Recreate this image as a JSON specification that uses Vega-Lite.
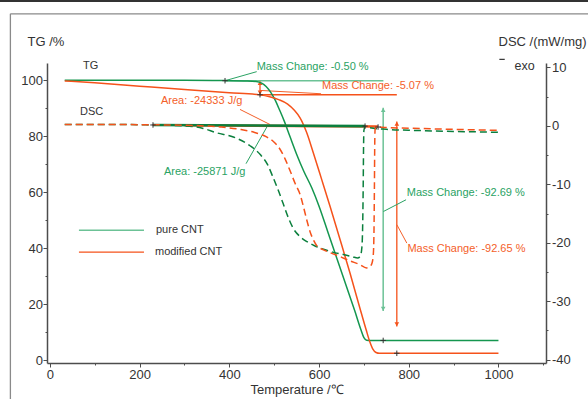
{
  "$schema": "https://vega.github.io/schema/vega-lite/v6.json",
  "width": 499,
  "height": 300,
  "autosize": {"type": "none"},
  "padding": {"left": 47, "top": 63, "right": 42, "bottom": 36},
  "background": "white",
  "config": {
    "font": "Liberation Sans",
    "view": {"stroke": null},
    "axis": {"grid": false, "domainColor": "#4d4d4d", "domainWidth": 1.5, "tickColor": "#4d4d4d", "tickWidth": 1, "labelColor": "#333", "labelFontSize": 13, "labelFont": "Liberation Sans", "titleFont": "Liberation Sans", "titleFontSize": 13, "titleFontWeight": "normal", "titleColor": "#333"}
  },
  "datasets": {
    "tg": [
      {"T": 33, "TG": 100, "s": "pure"}, {"T": 200, "TG": 100, "s": "pure"}, {"T": 300, "TG": 100, "s": "pure"}, {"T": 390, "TG": 99.9, "s": "pure"}, {"T": 440, "TG": 99.8, "s": "pure"}, {"T": 460, "TG": 99.6, "s": "pure"}, {"T": 472, "TG": 99.0, "s": "pure"}, {"T": 482, "TG": 97.8, "s": "pure"}, {"T": 492, "TG": 95.8, "s": "pure"}, {"T": 502, "TG": 93.0, "s": "pure"}, {"T": 512, "TG": 89.4, "s": "pure"}, {"T": 522, "TG": 85.6, "s": "pure"}, {"T": 535, "TG": 80.0, "s": "pure"}, {"T": 550, "TG": 73.6, "s": "pure"}, {"T": 566, "TG": 67.5, "s": "pure"}, {"T": 584, "TG": 61.5, "s": "pure"}, {"T": 600, "TG": 55.0, "s": "pure"}, {"T": 620, "TG": 45.6, "s": "pure"}, {"T": 640, "TG": 36.2, "s": "pure"}, {"T": 660, "TG": 26.8, "s": "pure"}, {"T": 680, "TG": 17.4, "s": "pure"}, {"T": 693, "TG": 11.0, "s": "pure"}, {"T": 700, "TG": 8.0, "s": "pure"}, {"T": 706, "TG": 7.1, "s": "pure"}, {"T": 715, "TG": 7.0, "s": "pure"}, {"T": 800, "TG": 7.0, "s": "pure"}, {"T": 900, "TG": 7.0, "s": "pure"}, {"T": 1000, "TG": 7.0, "s": "pure"},
      {"T": 33, "TG": 99.8, "s": "modified"}, {"T": 100, "TG": 99.1, "s": "modified"}, {"T": 200, "TG": 97.9, "s": "modified"}, {"T": 300, "TG": 96.7, "s": "modified"}, {"T": 400, "TG": 95.6, "s": "modified"}, {"T": 468, "TG": 94.8, "s": "modified"}, {"T": 490, "TG": 94.1, "s": "modified"}, {"T": 510, "TG": 93.1, "s": "modified"}, {"T": 530, "TG": 91.5, "s": "modified"}, {"T": 545, "TG": 89.3, "s": "modified"}, {"T": 558, "TG": 86.5, "s": "modified"}, {"T": 572, "TG": 81.5, "s": "modified"}, {"T": 587, "TG": 74.2, "s": "modified"}, {"T": 606, "TG": 64.5, "s": "modified"}, {"T": 625, "TG": 54.7, "s": "modified"}, {"T": 647, "TG": 43.0, "s": "modified"}, {"T": 669, "TG": 31.1, "s": "modified"}, {"T": 691, "TG": 18.6, "s": "modified"}, {"T": 705, "TG": 10.8, "s": "modified"}, {"T": 713, "TG": 6.6, "s": "modified"}, {"T": 720, "TG": 3.9, "s": "modified"}, {"T": 727, "TG": 2.7, "s": "modified"}, {"T": 735, "TG": 2.4, "s": "modified"}, {"T": 800, "TG": 2.4, "s": "modified"}, {"T": 900, "TG": 2.4, "s": "modified"}, {"T": 1000, "TG": 2.4, "s": "modified"}
    ],
    "dsc": [
      {"T": 33, "DSC": 0.25, "s": "pure"}, {"T": 150, "DSC": 0.25, "s": "pure"}, {"T": 230, "DSC": 0.15, "s": "pure"}, {"T": 300, "DSC": 0.0, "s": "pure"}, {"T": 340, "DSC": -0.4, "s": "pure"}, {"T": 372, "DSC": -1.2, "s": "pure"}, {"T": 409, "DSC": -1.9, "s": "pure"}, {"T": 446, "DSC": -3.4, "s": "pure"}, {"T": 470, "DSC": -5.0, "s": "pure"}, {"T": 485, "DSC": -6.6, "s": "pure"}, {"T": 498, "DSC": -8.9, "s": "pure"}, {"T": 510, "DSC": -11.2, "s": "pure"}, {"T": 520, "DSC": -13.3, "s": "pure"}, {"T": 532, "DSC": -15.8, "s": "pure"}, {"T": 543, "DSC": -17.6, "s": "pure"}, {"T": 557, "DSC": -18.9, "s": "pure"}, {"T": 573, "DSC": -19.8, "s": "pure"}, {"T": 590, "DSC": -20.5, "s": "pure"}, {"T": 610, "DSC": -21.1, "s": "pure"}, {"T": 630, "DSC": -21.6, "s": "pure"}, {"T": 654, "DSC": -22.0, "s": "pure"}, {"T": 675, "DSC": -22.4, "s": "pure"}, {"T": 686, "DSC": -22.6, "s": "pure"}, {"T": 692, "DSC": -22.3, "s": "pure"}, {"T": 695.5, "DSC": -20.8, "s": "pure"}, {"T": 697.5, "DSC": -16, "s": "pure"}, {"T": 698.5, "DSC": -10, "s": "pure"}, {"T": 699.2, "DSC": -4, "s": "pure"}, {"T": 700, "DSC": -0.8, "s": "pure"}, {"T": 703, "DSC": -0.1, "s": "pure"}, {"T": 710, "DSC": -0.25, "s": "pure"}, {"T": 750, "DSC": -0.6, "s": "pure"}, {"T": 800, "DSC": -0.75, "s": "pure"}, {"T": 900, "DSC": -0.95, "s": "pure"}, {"T": 1000, "DSC": -1.1, "s": "pure"},
      {"T": 33, "DSC": 0.25, "s": "modified"}, {"T": 200, "DSC": 0.2, "s": "modified"}, {"T": 300, "DSC": 0.1, "s": "modified"}, {"T": 380, "DSC": -0.2, "s": "modified"}, {"T": 424, "DSC": -0.6, "s": "modified"}, {"T": 455, "DSC": -1.1, "s": "modified"}, {"T": 483, "DSC": -1.9, "s": "modified"}, {"T": 500, "DSC": -2.8, "s": "modified"}, {"T": 513, "DSC": -4.0, "s": "modified"}, {"T": 524, "DSC": -5.6, "s": "modified"}, {"T": 535, "DSC": -7.6, "s": "modified"}, {"T": 547, "DSC": -9.9, "s": "modified"}, {"T": 558, "DSC": -11.8, "s": "modified"}, {"T": 565, "DSC": -13.75, "s": "modified"}, {"T": 572, "DSC": -15.9, "s": "modified"}, {"T": 580, "DSC": -18.1, "s": "modified"}, {"T": 588, "DSC": -19.6, "s": "modified"}, {"T": 595, "DSC": -20.5, "s": "modified"}, {"T": 610, "DSC": -21.2, "s": "modified"}, {"T": 625, "DSC": -21.7, "s": "modified"}, {"T": 645, "DSC": -22.3, "s": "modified"}, {"T": 669, "DSC": -23.1, "s": "modified"}, {"T": 690, "DSC": -23.7, "s": "modified"}, {"T": 706, "DSC": -24.3, "s": "modified"}, {"T": 713, "DSC": -24.1, "s": "modified"}, {"T": 718, "DSC": -23.5, "s": "modified"}, {"T": 721, "DSC": -22.0, "s": "modified"}, {"T": 722.5, "DSC": -18, "s": "modified"}, {"T": 723.5, "DSC": -10, "s": "modified"}, {"T": 724.2, "DSC": -3, "s": "modified"}, {"T": 725, "DSC": -0.6, "s": "modified"}, {"T": 728, "DSC": -0.15, "s": "modified"}, {"T": 740, "DSC": -0.25, "s": "modified"}, {"T": 800, "DSC": -0.4, "s": "modified"}, {"T": 900, "DSC": -0.6, "s": "modified"}, {"T": 1000, "DSC": -0.78, "s": "modified"}
    ],
    "dscbase": [
      {"T": 300, "DSC": 0.1, "T2": 731.6, "DSC2": -0.1, "s": "modified"},
      {"T": 229.8, "DSC": 0.15, "T2": 702.6, "DSC2": -0.05, "s": "pure"}
    ],
    "dscplus": [
      {"T": 229.8, "DSC": 0.15}, {"T": 702.6, "DSC": -0.05}, {"T": 731.6, "DSC": -0.2}
    ],
    "tgplus": [
      {"T": 390.4, "TG": 99.86}, {"T": 468.4, "TG": 94.85}, {"T": 743, "TG": 7.0}, {"T": 773.4, "TG": 2.4}
    ],
    "seg": [
      {"k": "frame", "T": -88.1, "TG": 123.8, "T2": -88.1, "TG2": -20},
      {"k": "frame", "T": -88.1, "TG": 123.8, "T2": 1250, "TG2": 123.8},
      {"k": "topbar", "T": -120, "TG": 128.4, "T2": 1250, "TG2": 128.4},
      {"k": "exo", "T": 1002, "TG": 107.5, "T2": 1014, "TG2": 107.5},
      {"k": "legend", "s": "pure", "T": 64.7, "TG": 46.4, "T2": 209.7, "TG2": 46.4},
      {"k": "legend", "s": "modified", "T": 64.7, "TG": 38.6, "T2": 209.7, "TG2": 38.6},
      {"k": "under", "s": "pure", "T": 390.4, "TG": 99.86, "T2": 743.5, "TG2": 99.86},
      {"k": "under", "s": "modified", "T": 468.4, "TG": 94.85, "T2": 773.4, "TG2": 94.85},
      {"k": "arrow", "s": "pure", "T": 743, "TG": 90.2, "T2": 743, "TG2": 17.5},
      {"k": "arrow", "s": "modified", "T": 773.4, "TG": 85.3, "T2": 773.4, "TG2": 12},
      {"k": "arrow", "s": "modified", "T": 468.4, "TG": 99.5, "T2": 468.4, "TG2": 95.2},
      {"k": "leader", "s": "pure", "T": 390.4, "TG": 99.86, "T2": 461, "TG2": 103.1},
      {"k": "leader", "s": "pure", "T": 437.2, "TG": 70.2, "T2": 484, "TG2": 83.4},
      {"k": "leader", "s": "pure", "T": 743.5, "TG": 53.1, "T2": 794, "TG2": 57.3},
      {"k": "leader", "s": "modified", "T": 468.4, "TG": 96.4, "T2": 604.5, "TG2": 95.2},
      {"k": "leader", "s": "modified", "T": 423.8, "TG": 89.6, "T2": 490.7, "TG2": 84.2},
      {"k": "leader", "s": "modified", "T": 773.4, "TG": 48.4, "T2": 795.7, "TG2": 41.8}
    ],
    "heads": [
      {"s": "pure", "dir": "up", "T": 743, "TG": 89.4},
      {"s": "pure", "dir": "down", "T": 743, "TG": 18.3},
      {"s": "modified", "dir": "up", "T": 773.4, "TG": 84.5},
      {"s": "modified", "dir": "down", "T": 773.4, "TG": 12.8},
      {"s": "modified", "dir": "up", "T": 468.4, "TG": 99.1},
      {"s": "modified", "dir": "down", "T": 468.4, "TG": 95.6}
    ],
    "ann": [
      {"s": "pure", "T": 461, "TG": 104.6, "text": "Mass Change: -0.50 %"},
      {"s": "pure", "T": 254.3, "TG": 67.4, "text": "Area: -25871 J/g"},
      {"s": "pure", "T": 795.7, "TG": 59.7, "text": "Mass Change: -92.69 %"},
      {"s": "modified", "T": 606.7, "TG": 97.8, "text": "Mass Change: -5.07 %"},
      {"s": "modified", "T": 247.6, "TG": 92.5, "text": "Area: -24333 J/g"},
      {"s": "modified", "T": 797, "TG": 39.7, "text": "Mass Change: -92.65 %"},
      {"s": "other", "T": 73.6, "TG": 105.0, "text": "TG"},
      {"s": "other", "T": 67, "TG": 88.8, "text": "DSC"},
      {"s": "other", "T": 236.5, "TG": 46.4, "text": "pure CNT"},
      {"s": "other", "T": 234.2, "TG": 38.6, "text": "modified CNT"},
      {"s": "exo", "T": 1036, "TG": 105.0, "text": "exo"}
    ]
  },
  "resolve": {"scale": {"y": "independent", "color": "independent"}, "axis": {"y": "independent"}},
  "layer": [
    {
      "resolve": {"axis": {"x": "independent", "y": "independent"}, "scale": {"color": "independent"}},
      "layer": [
        {
          "data": {"name": "seg"},
          "transform": [{"filter": "datum.k === 'frame'"}],
          "mark": {"type": "rule", "color": "#8a8a8a", "strokeWidth": 1.3},
          "encoding": {
            "x": {"field": "T", "type": "quantitative", "scale": {"domain": [-6.5, 1106], "nice": false, "zero": false}, "axis": null},
            "x2": {"field": "T2"},
            "y": {"field": "TG", "type": "quantitative", "scale": {"domain": [-1.07, 106.2], "nice": false, "zero": false}, "axis": null},
            "y2": {"field": "TG2"}
          }
        },
        {
          "data": {"name": "seg"},
          "transform": [{"filter": "datum.k === 'topbar'"}],
          "mark": {"type": "rule", "color": "#333", "strokeWidth": 2.4},
          "encoding": {
            "x": {"field": "T", "type": "quantitative", "scale": {"domain": [-6.5, 1106], "nice": false, "zero": false}, "axis": null},
            "x2": {"field": "T2"},
            "y": {"field": "TG", "type": "quantitative", "scale": {"domain": [-1.07, 106.2], "nice": false, "zero": false}, "axis": null},
            "y2": {"field": "TG2"}
          }
        },
        {
          "data": {"name": "seg"},
          "transform": [{"filter": "datum.k === 'exo'"}],
          "mark": {"type": "rule", "color": "#333", "strokeWidth": 1.2},
          "encoding": {
            "x": {"field": "T", "type": "quantitative", "scale": {"domain": [-6.5, 1106], "nice": false, "zero": false}, "axis": null},
            "x2": {"field": "T2"},
            "y": {"field": "TG", "type": "quantitative", "scale": {"domain": [-1.07, 106.2], "nice": false, "zero": false}, "axis": null},
            "y2": {"field": "TG2"}
          }
        },
        {
          "data": {"name": "seg"},
          "transform": [{"filter": "(datum.k === 'legend' || datum.k === 'arrow' || datum.k === 'under') && datum.s === 'pure'"}],
          "mark": {"type": "rule", "color": "#6cc296", "strokeWidth": 1.5},
          "encoding": {
            "x": {"field": "T", "type": "quantitative", "scale": {"domain": [-6.5, 1106], "nice": false, "zero": false}, "axis": null},
            "x2": {"field": "T2"},
            "y": {"field": "TG", "type": "quantitative", "scale": {"domain": [-1.07, 106.2], "nice": false, "zero": false}, "axis": null},
            "y2": {"field": "TG2"}
          }
        },
        {
          "data": {"name": "seg"},
          "transform": [{"filter": "(datum.k === 'legend' || datum.k === 'arrow' || datum.k === 'under') && datum.s === 'modified'"}],
          "mark": {"type": "rule", "color": "#f5521b", "strokeWidth": 1.3},
          "encoding": {
            "x": {"field": "T", "type": "quantitative", "scale": {"domain": [-6.5, 1106], "nice": false, "zero": false}, "axis": null},
            "x2": {"field": "T2"},
            "y": {"field": "TG", "type": "quantitative", "scale": {"domain": [-1.07, 106.2], "nice": false, "zero": false}, "axis": null},
            "y2": {"field": "TG2"}
          }
        },
        {
          "data": {"name": "seg"},
          "transform": [{"filter": "datum.k === 'leader' && datum.s === 'pure'"}],
          "mark": {"type": "rule", "color": "#2aa263", "strokeWidth": 1},
          "encoding": {
            "x": {"field": "T", "type": "quantitative", "scale": {"domain": [-6.5, 1106], "nice": false, "zero": false}, "axis": null},
            "x2": {"field": "T2"},
            "y": {"field": "TG", "type": "quantitative", "scale": {"domain": [-1.07, 106.2], "nice": false, "zero": false}, "axis": null},
            "y2": {"field": "TG2"}
          }
        },
        {
          "data": {"name": "seg"},
          "transform": [{"filter": "datum.k === 'leader' && datum.s === 'modified'"}],
          "mark": {"type": "rule", "color": "#f4602a", "strokeWidth": 1},
          "encoding": {
            "x": {"field": "T", "type": "quantitative", "scale": {"domain": [-6.5, 1106], "nice": false, "zero": false}, "axis": null},
            "x2": {"field": "T2"},
            "y": {"field": "TG", "type": "quantitative", "scale": {"domain": [-1.07, 106.2], "nice": false, "zero": false}, "axis": null},
            "y2": {"field": "TG2"}
          }
        },
        {
          "data": {"name": "heads"},
          "mark": {"type": "point", "filled": true, "size": 22, "opacity": 1},
          "encoding": {
            "x": {"field": "T", "type": "quantitative", "scale": {"domain": [-6.5, 1106], "nice": false, "zero": false}, "axis": null},
            "y": {"field": "TG", "type": "quantitative", "scale": {"domain": [-1.07, 106.2], "nice": false, "zero": false}, "axis": null},
            "shape": {"field": "dir", "type": "nominal", "scale": {"domain": ["up", "down"], "range": ["triangle-up", "triangle-down"]}, "legend": null},
            "color": {"field": "s", "type": "nominal", "scale": {"domain": ["pure", "modified"], "range": ["#6cc296", "#f5521b"]}, "legend": null}
          }
        },
        {
          "data": {"name": "tg"},
          "mark": {"type": "line", "interpolate": "monotone", "strokeWidth": 1.5},
          "encoding": {
            "x": {"field": "T", "type": "quantitative", "scale": {"domain": [-6.5, 1106], "nice": false, "zero": false},
              "axis": {"orient": "bottom", "values": [0, 200, 400, 600, 800, 1000], "labelExpr": "'' + datum.value", "labelOverlap": false, "labelFlush": false, "tickSize": 4, "labelPadding": 7, "labelBaseline": "middle", "title": "Temperature /℃", "titleY": 26, "titleBaseline": "middle"}},
            "y": {"field": "TG", "type": "quantitative", "scale": {"domain": [-1.07, 106.2], "nice": false, "zero": false},
              "axis": {"orient": "left", "values": [0, 20, 40, 60, 80, 100], "labelExpr": "'' + datum.value", "labelOverlap": false, "labelFlush": false, "tickSize": 4, "labelPadding": 0.5, "title": "TG /%", "titleAngle": 0, "titleAlign": "left", "titleBaseline": "middle", "titleX": -20, "titleY": -22}},
            "color": {"field": "s", "type": "nominal", "scale": {"domain": ["pure", "modified"], "range": ["#14964f", "#f5521b"]}, "legend": null}
          }
        },
        {
          "data": {"name": "tgplus"},
          "mark": {"type": "point", "shape": "M-1,0L1,0M0,-1L0,1", "size": 30, "filled": false, "stroke": "#333", "strokeWidth": 1, "opacity": 1},
          "encoding": {
            "x": {"field": "T", "type": "quantitative", "scale": {"domain": [-6.5, 1106], "nice": false, "zero": false},
              "axis": {"orient": "bottom", "values": [100, 300, 500, 700, 900, 1100], "labels": false, "domain": false, "tickSize": 2, "title": null}},
            "y": {"field": "TG", "type": "quantitative", "scale": {"domain": [-1.07, 106.2], "nice": false, "zero": false},
              "axis": {"orient": "left", "values": [10, 30, 50, 70, 90], "labels": false, "domain": false, "tickSize": 2, "title": null}}
          }
        },
        {
          "data": {"name": "ann"},
          "transform": [{"filter": "datum.s === 'pure'"}],
          "mark": {"type": "text", "align": "left", "baseline": "middle", "fontSize": 11, "color": "#2aa263"},
          "encoding": {
            "x": {"field": "T", "type": "quantitative", "scale": {"domain": [-6.5, 1106], "nice": false, "zero": false}, "axis": null},
            "y": {"field": "TG", "type": "quantitative", "scale": {"domain": [-1.07, 106.2], "nice": false, "zero": false}, "axis": null},
            "text": {"field": "text"}
          }
        },
        {
          "data": {"name": "ann"},
          "transform": [{"filter": "datum.s === 'modified'"}],
          "mark": {"type": "text", "align": "left", "baseline": "middle", "fontSize": 11, "color": "#f4602a"},
          "encoding": {
            "x": {"field": "T", "type": "quantitative", "scale": {"domain": [-6.5, 1106], "nice": false, "zero": false}, "axis": null},
            "y": {"field": "TG", "type": "quantitative", "scale": {"domain": [-1.07, 106.2], "nice": false, "zero": false}, "axis": null},
            "text": {"field": "text"}
          }
        },
        {
          "data": {"name": "ann"},
          "transform": [{"filter": "datum.s === 'other'"}],
          "mark": {"type": "text", "align": "left", "baseline": "middle", "fontSize": 11, "color": "#333"},
          "encoding": {
            "x": {"field": "T", "type": "quantitative", "scale": {"domain": [-6.5, 1106], "nice": false, "zero": false}, "axis": null},
            "y": {"field": "TG", "type": "quantitative", "scale": {"domain": [-1.07, 106.2], "nice": false, "zero": false}, "axis": null},
            "text": {"field": "text"}
          }
        },
        {
          "data": {"name": "ann"},
          "transform": [{"filter": "datum.s === 'exo'"}],
          "mark": {"type": "text", "align": "left", "baseline": "middle", "fontSize": 12.5, "color": "#333"},
          "encoding": {
            "x": {"field": "T", "type": "quantitative", "scale": {"domain": [-6.5, 1106], "nice": false, "zero": false}, "axis": null},
            "y": {"field": "TG", "type": "quantitative", "scale": {"domain": [-1.07, 106.2], "nice": false, "zero": false}, "axis": null},
            "text": {"field": "text"}
          }
        }
      ]
    },
    {
      "resolve": {"axis": {"y": "independent"}, "scale": {"color": "independent"}},
      "layer": [
        {
          "data": {"name": "dscbase"},
          "mark": {"type": "rule", "strokeWidth": 2.6},
          "encoding": {
            "x": {"field": "T", "type": "quantitative", "scale": {"domain": [-6.5, 1106], "nice": false, "zero": false}, "axis": null},
            "x2": {"field": "T2"},
            "y": {"field": "DSC", "type": "quantitative", "scale": {"domain": [-40.56, 10.75], "nice": false, "zero": false},
              "axis": {"orient": "right", "values": [-40, -30, -20, -10, 0, 10], "labelExpr": "'' + datum.value", "labelOverlap": false, "labelFlush": false, "tickSize": 4, "labelPadding": 1.5, "title": "DSC /(mW/mg)", "titleAngle": 0, "titleAlign": "left", "titleBaseline": "middle", "titleX": -48, "titleY": -22}},
            "y2": {"field": "DSC2"},
            "color": {"field": "s", "type": "nominal", "scale": {"domain": ["pure", "modified"], "range": ["#0b7f3d", "#f5521b"]}, "legend": null}
          }
        },
        {
          "data": {"name": "dsc"},
          "mark": {"type": "line", "interpolate": "monotone", "strokeWidth": 1.5, "strokeDash": [7, 4]},
          "encoding": {
            "x": {"field": "T", "type": "quantitative", "scale": {"domain": [-6.5, 1106], "nice": false, "zero": false}, "axis": null},
            "y": {"field": "DSC", "type": "quantitative", "scale": {"domain": [-40.56, 10.75], "nice": false, "zero": false}, "axis": null},
            "color": {"field": "s", "type": "nominal", "scale": {"domain": ["pure", "modified"], "range": ["#0b7f3d", "#f5521b"]}, "legend": null}
          }
        },
        {
          "data": {"name": "dscplus"},
          "mark": {"type": "point", "shape": "M-1,0L1,0M0,-1L0,1", "size": 30, "filled": false, "stroke": "#333", "strokeWidth": 1, "opacity": 1},
          "encoding": {
            "x": {"field": "T", "type": "quantitative", "scale": {"domain": [-6.5, 1106], "nice": false, "zero": false}, "axis": null},
            "y": {"field": "DSC", "type": "quantitative", "scale": {"domain": [-40.56, 10.75], "nice": false, "zero": false},
              "axis": {"orient": "right", "values": [-35, -25, -15, -5, 5], "labels": false, "domain": false, "tickSize": 2, "title": null}}
          }
        }
      ]
    }
  ]
}
